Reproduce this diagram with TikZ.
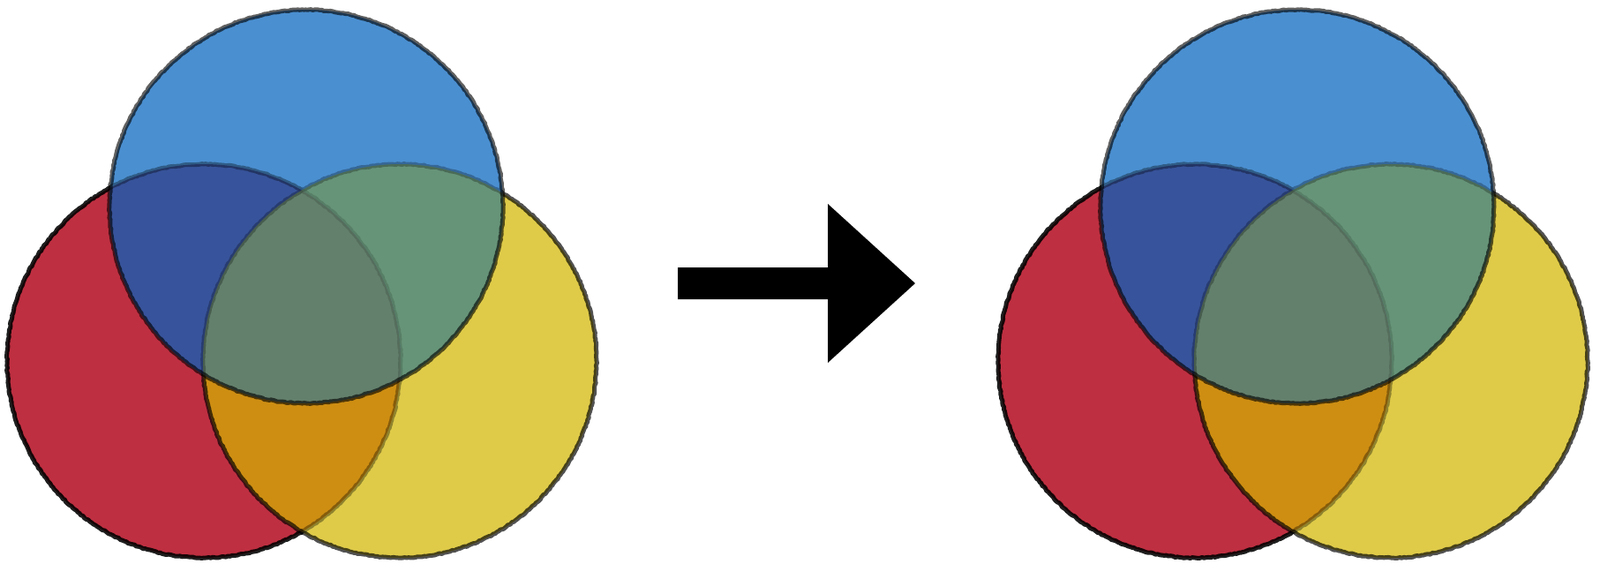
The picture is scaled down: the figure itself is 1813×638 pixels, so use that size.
\documentclass[tikz,border=0pt]{standalone}
\usetikzlibrary{decorations.pathmorphing}

\definecolor{vred}{HTML}{BE2F41}
\definecolor{vyellow}{HTML}{DFCB48}
\definecolor{vblue}{HTML}{4A8FD0}
\definecolor{vredyellow}{HTML}{CE8E12}
\definecolor{vredblue}{HTML}{37539B}
\definecolor{vyellowblue}{HTML}{669478}
\definecolor{vall}{HTML}{63806C}

\tikzset{
  rim/.style={draw=black, line width=5pt, line join=round, decorate,
    decoration={random steps, segment length=2.5pt, amplitude=0.6pt}},
  veil/.style={transparency group, opacity=0.6},
}
\newcommand{\rad}{223pt}

% flat colours of the seven regions of one diagram
\newcommand{\vennfill}[1]{%
  \fill[vred] (#1-red) circle[radius=\rad];
  \fill[vyellow] (#1-yel) circle[radius=\rad];
  \fill[vblue] (#1-blu) circle[radius=\rad];
  \begin{scope}
    \clip (#1-red) circle[radius=\rad];
    \fill[vredyellow] (#1-yel) circle[radius=\rad];
    \fill[vredblue] (#1-blu) circle[radius=\rad];
    \clip (#1-yel) circle[radius=\rad];
    \fill[vall] (#1-blu) circle[radius=\rad];
  \end{scope}
  \begin{scope}[even odd rule]
    \clip (#1-blu) circle[radius=\rad];
    \clip (#1-red) circle[radius=\rad] (0,0) rectangle (1813,638);
    \fill[vyellowblue] (#1-yel) circle[radius=\rad];
  \end{scope}}

\begin{document}
\begin{tikzpicture}[x=1pt, y=-1pt]
\useasboundingbox (0,0) rectangle (1813,638);

\foreach \dx/\s in {0/a, 1123/b}{
  \coordinate (\s-red) at (231+\dx,409);
  \coordinate (\s-yel) at (453+\dx,409);
  \coordinate (\s-blu) at (347+\dx,234);

  \vennfill{\s}
  \draw[rim, opacity=.88] (\s-red) circle[radius=\rad];
  % yellow lies over the red rim
  \begin{scope}[veil]
    \clip (\s-yel) circle[radius=\rad];
    \vennfill{\s}
  \end{scope}
  \draw[rim, opacity=.68] (\s-yel) circle[radius=\rad];
  % blue lies over both
  \begin{scope}[veil]
    \clip (\s-blu) circle[radius=\rad];
    \vennfill{\s}
  \end{scope}
  \draw[rim, opacity=.62] (\s-blu) circle[radius=\rad];
}

% arrow
\fill[black] (768,303) -- (938,303) -- (938,231) -- (1037,321)
  -- (938,411) -- (938,339) -- (768,339) -- cycle;
\end{tikzpicture}
\end{document}
